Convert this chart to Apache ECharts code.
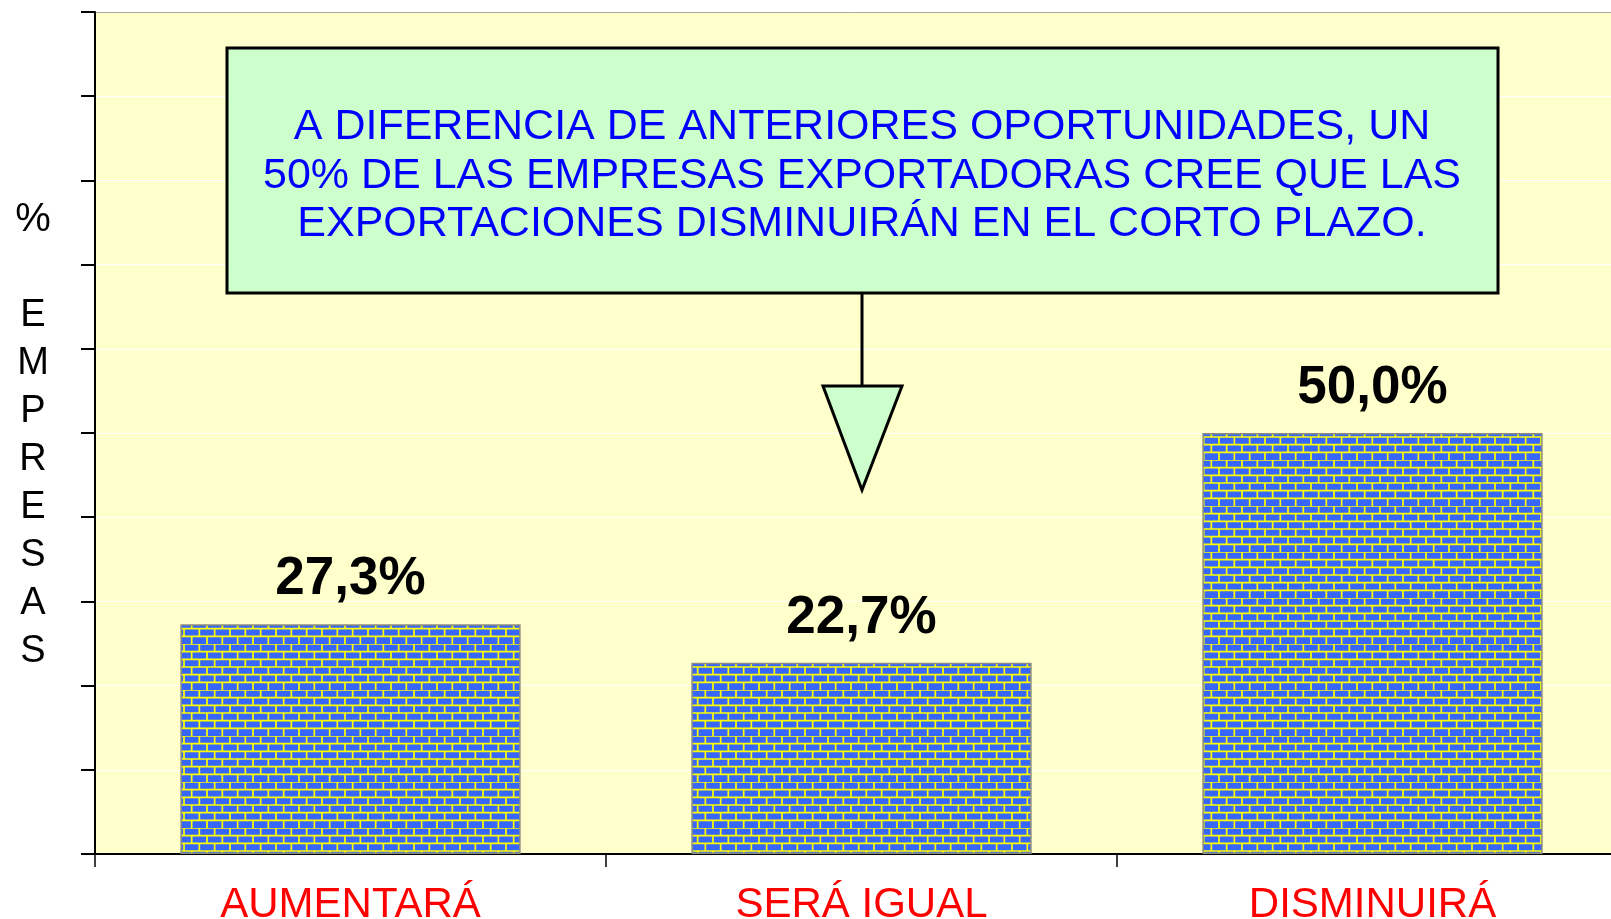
<!DOCTYPE html>
<html>
<head>
<meta charset="utf-8">
<script src="https://cdn.jsdelivr.net/npm/echarts@6/dist/echarts.min.js"></script>
<style>
  html, body { margin: 0; padding: 0; background: #fff; }
  #chart { width: 1611px; height: 919px; }
</style>
</head>
<body>
<div id="chart"></div>
<script>
// categorias del eje X
var categorias = ['AUMENTARÁ', 'SERÁ IGUAL', 'DISMINUIRÁ'];
// porcentaje de empresas
var valores = [27.3, 22.7, 50.0];
// eje Y (sin etiquetas visibles)
var yMin = 0, yMax = 100, yPaso = 10;
// texto del recuadro
var nota = [
    'A DIFERENCIA DE ANTERIORES OPORTUNIDADES, UN',
    '50% DE LAS EMPRESAS EXPORTADORAS CREE QUE LAS',
    'EXPORTACIONES DISMINUIRÁN EN EL CORTO PLAZO.'
];
var tituloY = '%';
var tituloY2 = 'EMPRESAS';

// patron de ladrillos (azul con juntas amarillas)
function patronLadrillo() {
    var c = document.createElement('canvas');
    c.width = 46; c.height = 46;
    var ctx = c.getContext('2d');
    ctx.fillStyle = '#3766fa';
    ctx.fillRect(0, 0, 46, 46);
    ctx.strokeStyle = '#ffff00';
    ctx.lineWidth = 1.7;
    var fila = 46 / 6, col = 46 / 3;
    for (var k = 0; k < 6; k++) {
        var y = k * fila;
        ctx.beginPath();
        ctx.moveTo(0, y); ctx.lineTo(46, y);
        ctx.stroke();
        var off = (k % 2) ? col / 2 : 0;
        for (var j = -1; j < 4; j++) {
            var x = j * col + off;
            ctx.beginPath();
            ctx.moveTo(x, y); ctx.lineTo(x, y + fila);
            ctx.stroke();
        }
    }
    return c;
}

// colores de la grilla: blancas, la superior gris
var coloresGrilla = [];
for (var i = 0; i < (yMax - yMin) / yPaso; i++) coloresGrilla.push('#ffffff');
coloresGrilla.push('#a6a6a6');

var fuente = '"Liberation Sans", Arial, sans-serif';
var chart = echarts.init(document.getElementById('chart'));

var option = {
    animation: false,
    backgroundColor: '#ffffff',
    grid: {
        left: 95, top: 12, right: -17, bottom: 65,
        outerBoundsMode: 'none',
        containLabel: false,
        show: true, backgroundColor: '#ffffcc', borderWidth: 0
    },
    xAxis: {
        type: 'category',
        data: categorias,
        axisLine: { lineStyle: { color: '#000', width: 2 } },
        axisTick: { show: true, length: 13, lineStyle: { color: '#000', width: 1.5 } },
        axisLabel: { color: '#ff0000', fontSize: 42, fontFamily: fuente, margin: 30 }
    },
    yAxis: {
        type: 'value',
        min: yMin, max: yMax, interval: yPaso,
        axisLine: { show: true, lineStyle: { color: '#000', width: 2 } },
        axisTick: { show: true, length: 14, lineStyle: { color: '#000', width: 2 } },
        axisLabel: { show: false },
        splitLine: { show: true, lineStyle: { color: coloresGrilla, width: 1 } }
    },
    series: [{
        type: 'bar',
        data: valores,
        barWidth: '66.6%',
        itemStyle: {
            color: { image: patronLadrillo(), repeat: 'repeat' },
            borderColor: '#8c8c80',
            borderWidth: 1.5
        },
        label: {
            show: true,
            position: 'top',
            distance: 18,
            color: '#000',
            fontSize: 53,
            fontWeight: 'bold',
            fontFamily: fuente,
            formatter: function (p) {
                return p.value.toFixed(1).replace('.', ',') + '%';
            }
        }
    }],
    graphic: [
        {
            type: 'rect', z: 100,
            shape: { x: 227, y: 48, width: 1271, height: 245 },
            style: { fill: '#ccffcc', stroke: '#000', lineWidth: 3 }
        },
        {
            type: 'text', z: 101,
            x: 862, y: 103,
            style: {
                text: nota.join('\n'),
                fill: '#0000ff',
                font: '43px ' + fuente,
                textAlign: 'center',
                textVerticalAlign: 'top',
                lineHeight: 48.5
            }
        },
        {
            type: 'line', z: 100,
            shape: { x1: 862, y1: 293, x2: 862, y2: 386 },
            style: { stroke: '#000', lineWidth: 3 }
        },
        {
            type: 'polygon', z: 100,
            shape: { points: [[823, 386], [902, 386], [862, 490]] },
            style: { fill: '#ccffcc', stroke: '#000', lineWidth: 3 }
        },
        {
            type: 'text',
            x: 33, y: 220,
            style: {
                text: tituloY, fill: '#000', font: '40px ' + fuente,
                textAlign: 'center', textVerticalAlign: 'middle'
            }
        },
        {
            type: 'text',
            x: 33, y: 292,
            style: {
                text: tituloY2.split('').join('\n'), fill: '#000', font: '38px ' + fuente,
                textAlign: 'center', textVerticalAlign: 'top', lineHeight: 48
            }
        }
    ]
};
chart.setOption(option);
</script>
</body>
</html>
